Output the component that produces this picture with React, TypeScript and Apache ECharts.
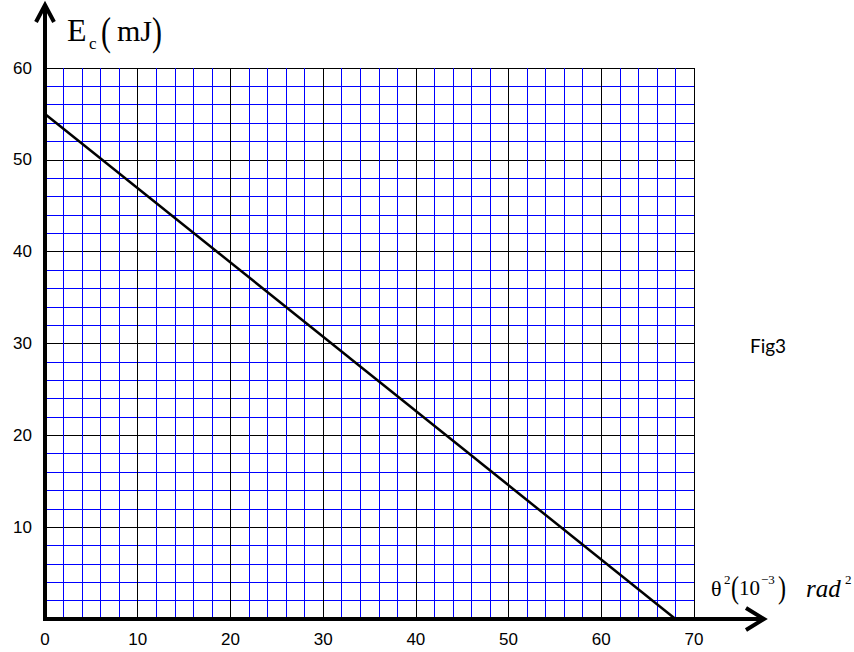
import React, { useEffect, useRef } from "react";
import * as echarts from "echarts";

// Data: straight line Ec = f(theta^2)
const thetaSq = [0, 68];
const energy = [55, 0];

// Axis ranges and ticks
const xRange = [0, 70];
const yRange = [0, 60];
const majorStep = 10;
const minorStep = 2;

const serif = "Liberation Serif, Times New Roman, serif";
const sans = "Liberation Sans, Arial, sans-serif";

export default function App() {
  const ref = useRef<HTMLDivElement>(null);

  useEffect(() => {
    const chart = echarts.init(ref.current!, null, { renderer: "svg" });

    const minorAxis = (range: number[], position: string) => ({
      type: "value",
      position,
      offset: 0,
      min: range[0],
      max: range[1],
      interval: minorStep,
      axisLine: { show: false },
      axisTick: { show: false },
      axisLabel: { show: false },
      splitLine: { show: true, lineStyle: { color: "#0000ff", width: 1 } },
    });
    const majorAxis = (range: number[], position: string, label: any) => ({
      type: "value",
      position,
      offset: 0,
      min: range[0],
      max: range[1],
      interval: majorStep,
      axisLine: { show: false },
      axisTick: { show: false },
      axisLabel: { color: "#000", fontSize: 17, fontFamily: sans, ...label },
      splitLine: { show: true, lineStyle: { color: "#000", width: 1 } },
    });

    chart.setOption({
      animation: false,
      backgroundColor: "#ffffff",
      grid: { left: 45, right: 160, top: 68, bottom: 33, containLabel: false },
      xAxis: [minorAxis(xRange, "bottom"), majorAxis(xRange, "bottom", { margin: 12 })],
      yAxis: [
        minorAxis(yRange, "left"),
        majorAxis(yRange, "left", {
          margin: 13,
          formatter: (v: number) => (v === 0 ? "" : String(v)),
        }),
      ],
      series: [
        {
          type: "line",
          xAxisIndex: 0,
          yAxisIndex: 0,
          data: thetaSq.map((x, i) => [x, energy[i]]),
          symbol: "none",
          lineStyle: { color: "#000", width: 2.5 },
          z: 5,
        },
      ],
    });

    const o = chart.convertToPixel({ gridIndex: 0 }, [xRange[0], yRange[0]]) as number[];
    const ox = o[0];
    const oy = o[1];
    const stroke = { stroke: "#000", lineWidth: 4, fill: "none" };

    const txt = (
      text: string,
      x: number,
      y: number,
      size: number,
      extra: any = {},
      el: any = {}
    ) => ({
      type: "text",
      x,
      y,
      z: 20,
      ...el,
      style: {
        text,
        fontSize: size,
        fontFamily: serif,
        fill: "#000",
        align: "left",
        verticalAlign: "middle",
        ...extra,
      },
    });

    chart.setOption({
      graphic: [
        // y axis with open arrow
        { type: "line", z: 10, shape: { x1: ox, y1: oy + 2, x2: ox, y2: 5 }, style: stroke },
        {
          type: "polyline",
          z: 10,
          shape: { points: [[ox - 9, 22], [ox, 5], [ox + 9, 22]] },
          style: stroke,
        },
        // x axis with open arrow
        { type: "line", z: 10, shape: { x1: ox - 2, y1: oy, x2: 764, y2: oy }, style: stroke },
        {
          type: "polyline",
          z: 10,
          shape: { points: [[746, oy - 11], [764, oy], [746, oy + 11]] },
          style: stroke,
        },
        // y axis title: Ec (mJ)
        txt("E", 67, 30, 32),
        txt("c", 89, 43, 17),
        txt("(", 101, 31, 30, {}, { scaleY: 1.35 }),
        txt("mJ", 117, 30, 30),
        txt(")", 152, 31, 30, {}, { scaleY: 1.35 }),
        // x axis title: θ²(10⁻³)rad²
        txt("θ", 711, 588, 22),
        txt("2", 724, 579, 13),
        txt("(", 731, 587, 24, {}, { scaleY: 1.3 }),
        txt("10", 739, 588, 21),
        txt("−3", 761, 579, 13),
        txt(")", 778, 587, 24, {}, { scaleY: 1.3 }),
        txt("rad", 806, 588, 25, { fontStyle: "italic" }),
        txt("2", 845, 579, 13),
        // figure tag
        {
          type: "text",
          x: 768,
          y: 345,
          z: 20,
          style: {
            text: "Fig3",
            fontSize: 19,
            fontFamily: "Lato, Open Sans, sans-serif",
            fill: "#000",
            align: "center",
            verticalAlign: "middle",
          },
        },
      ],
    });

    return () => chart.dispose();
  }, []);

  return (
    <div
      ref={ref}
      style={{ position: "absolute", left: 0, top: 0, width: 854, height: 652 }}
    />
  );
}
